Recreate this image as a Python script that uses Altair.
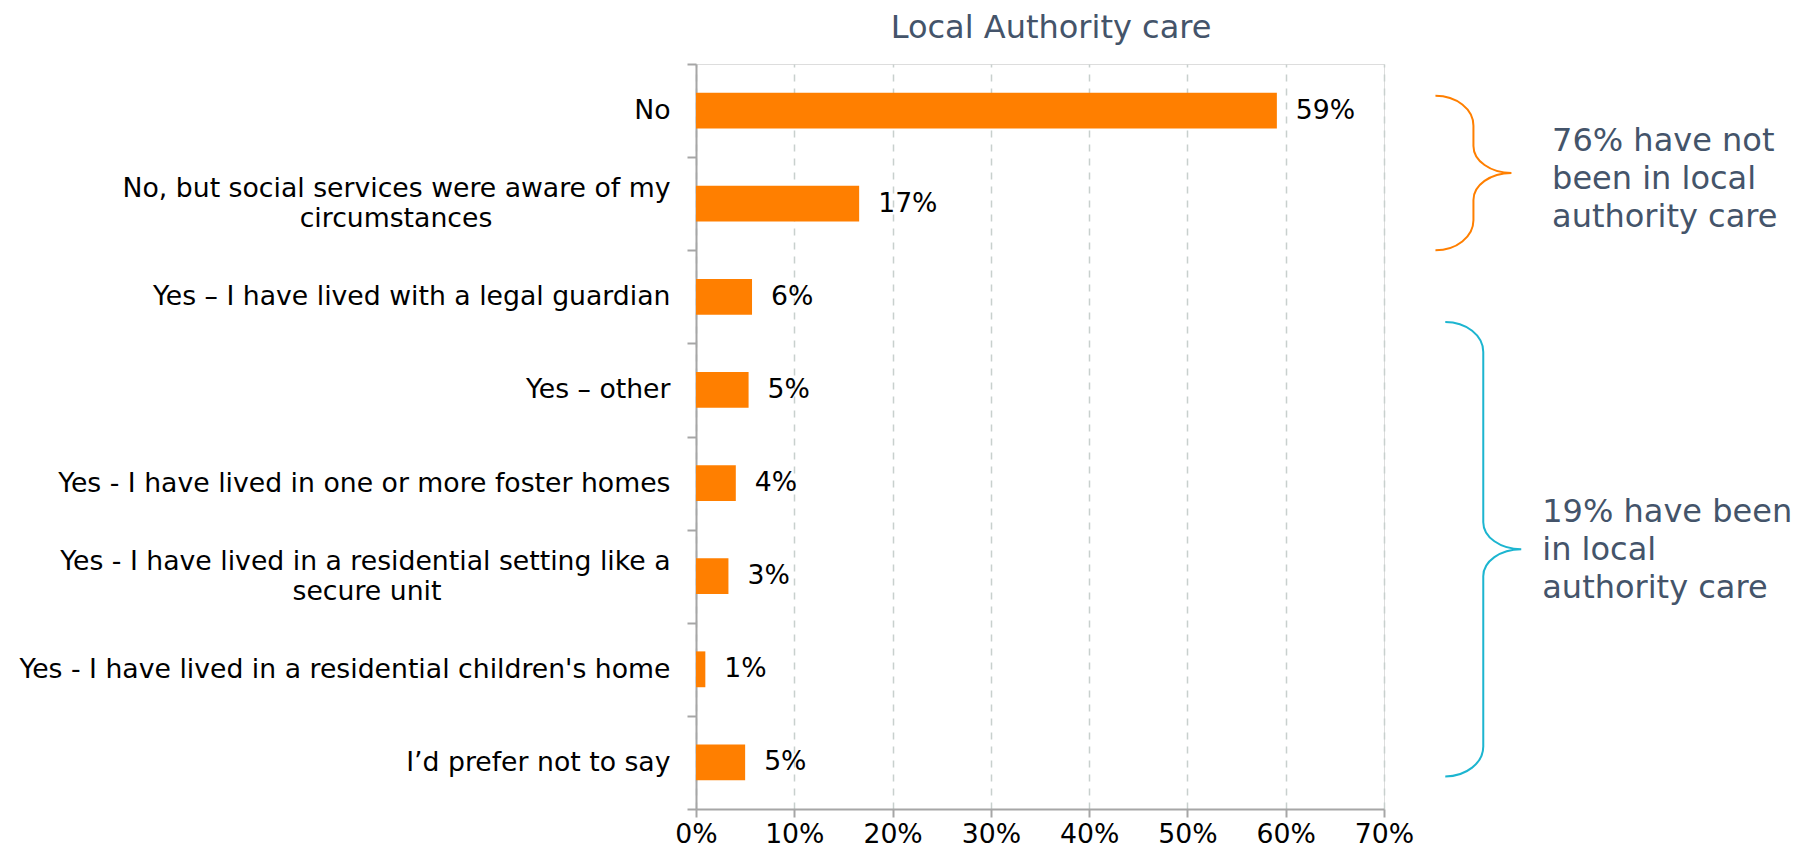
import json
import altair as alt
import pandas as pd

# ---------------- data ----------------
categories = [
    "No",
    "No, but social services were aware of my circumstances",
    "Yes – I have lived with a legal guardian",
    "Yes – other",
    "Yes - I have lived in one or more foster homes",
    "Yes - I have lived in a residential setting like a secure unit",
    "Yes - I have lived in a residential children's home",
    "I’d prefer not to say",
]
values = [59.1, 16.6, 5.7, 5.35, 4.05, 3.3, 0.95, 5.0]
x_ticks = [0, 10, 20, 30, 40, 50, 60, 70]
title_text = "Local Authority care"

note_not_care = ["76% have not", "been in local", "authority care"]
note_in_care = ["19% have been", "in local", "authority care"]

# label wrapping (two long labels wrap onto a second, centred line)
wraps = {
    "No, but social services were aware of my circumstances": ("No, but social services were aware of my", "circumstances", 21),
    "Yes - I have lived in a residential setting like a secure unit": ("Yes - I have lived in a residential setting like a", "secure unit", 27),
}
label_lines = {}
for c in categories:
    if c in wraps:
        l1, l2, pad = wraps[c]
        label_lines[c] = [l1, l2 + "\u00a0" * pad + "\u200b"]
    else:
        label_lines[c] = [c]
label_expr = "(" + json.dumps(label_lines, ensure_ascii=False) + ")[datum.label]"
wrap_test = " || ".join("datum.value === " + json.dumps(c, ensure_ascii=False) for c in wraps)

df = pd.DataFrame({"cat": categories, "val": values})

# ---------------- layout ----------------
W, H = 688, 745
N = len(categories)
STEP = H / N
P_INNER = 0.615
P_OUTER = P_INNER / 2
BW = STEP * (1 - P_INNER)
FONT = "DejaVu Sans"
ORANGE = "#ff7f00"
CYAN = "#1cb5d0"
SLATE = "#44546a"
AXIS_GREY = "#a6a6a6"
LINE_H = 30

# ticks on the boundaries between category bands
TICK_OFF = -P_OUTER * STEP
BAND_POS = STEP / BW

xscale = alt.Scale(domain=[0, 70], nice=False, zero=True)
yscale = alt.Scale(paddingInner=P_INNER, paddingOuter=P_OUTER)

base = alt.Chart(df)

bars = base.mark_bar(color=ORANGE).encode(
    x=alt.X(
        "val:Q",
        scale=xscale,
        axis=alt.Axis(
            values=x_ticks,
            labelExpr="datum.value + '%'",
            title=None,
            labelFontSize=26.7,
            labelColor="black",
            labelFont=FONT,
            labelPadding=4,
            labelFlush=False,
            tickSize=8,
            tickWidth=2,
            tickColor=AXIS_GREY,
            domainColor=AXIS_GREY,
            domainWidth=2,
            grid=True,
            gridColor="#c8d0cd",
            gridDash=[7, 7],
            gridWidth=1.5,
        ),
    ),
    y=alt.Y(
        "cat:N",
        sort=categories,
        scale=yscale,
        axis=alt.Axis(
            title=None,
            labelExpr=label_expr,
            labelFontSize=26.7,
            labelFont=FONT,
            labelColor="black",
            labelLimit=2000,
            labelPadding=17,
            labelLineHeight=LINE_H,
            bandPosition=BAND_POS,
            tickOffset=TICK_OFF,
            tickExtra=True,
            labelOffset=alt.condition(
                wrap_test, alt.value(-TICK_OFF - LINE_H / 2), alt.value(-TICK_OFF)
            ),
            tickSize=9,
            tickWidth=2,
            tickColor=AXIS_GREY,
            domainColor=AXIS_GREY,
            domainWidth=2,
            grid=False,
        ),
    ),
)

value_labels = base.transform_calculate(
    lbl="format(datum.val, '.0f') + '%'"
).mark_text(
    align="left", baseline="middle", dx=19, fontSize=26.7, font=FONT, color="black"
).encode(
    x=alt.X("val:Q", scale=xscale),
    y=alt.Y("cat:N", sort=categories, scale=yscale),
    text="lbl:N",
)

main = alt.layer(bars, value_labels)


def brace_path(h, w=76.0, r_end=30.0, r_tip=27.0):
    s = h / 2.0
    a = w / 2.0
    k = 0.5523

    def f(v):
        return f"{v / s:.4f}"

    return (
        f"M{f(-a)},{f(-s)} "
        f"C{f(-a + k * a)},{f(-s)} 0,{f(-s + r_end - k * r_end)} 0,{f(-s + r_end)} "
        f"L0,{f(-r_tip)} "
        f"C0,{f(-r_tip + k * r_tip)} {f(a - k * a)},0 {f(a)},0 "
        f"C{f(a - k * a)},0 0,{f(r_tip - k * r_tip)} 0,{f(r_tip)} "
        f"L0,{f(s - r_end)} "
        f"C0,{f(s - r_end + k * r_end)} {f(-a + k * a)},{f(s)} {f(-a)},{f(s)}"
    )


one = pd.DataFrame({"k": [0]})
rowscale = alt.Scale(domain=[0, N], reverse=True, nice=False, zero=False)


def brace_layer(row_start, row_end, x_center, color):
    h = (row_end - row_start) * STEP
    return alt.Chart(one).mark_point(
        shape=brace_path(h), size=h * h, filled=False, strokeWidth=2, color=color, opacity=1
    ).encode(
        x=alt.datum(x_center, type="quantitative", scale=xscale),
        y=alt.datum((row_start + row_end) / 2, type="quantitative", scale=rowscale, axis=None),
    )


def note_layer(lines, x_left, row_first_line):
    return alt.Chart(one).mark_text(
        text=lines, align="left", baseline="middle", fontSize=32, lineHeight=38,
        font=FONT, color=SLATE
    ).encode(
        x=alt.datum(x_left, type="quantitative", scale=xscale),
        y=alt.datum(row_first_line, type="quantitative", scale=rowscale, axis=None),
    )


annotations = alt.layer(
    brace_layer(0.34, 2.0, 79.1, ORANGE),
    brace_layer(2.77, 7.65, 80.1, CYAN),
    note_layer(note_not_care, 87.1, 0.827),
    note_layer(note_in_care, 86.1, 4.81),
)

chart = (
    alt.layer(main, annotations)
    .resolve_scale(y="independent")
    .properties(
        width=W,
        height=H,
        title=alt.TitleParams(
            title_text, fontSize=32, font=FONT, fontWeight="normal", color=SLATE,
            anchor="middle", dx=11, offset=6,
        ),
        autosize=alt.AutoSizeParams(type="none"),
        padding={"left": 688, "top": 56, "right": 417, "bottom": 41},
    )
    .configure_view(strokeWidth=0, stroke="transparent")
    .configure(font=FONT)
)

chart.save("out.html", embed_options={"renderer": "svg", "actions": False})
